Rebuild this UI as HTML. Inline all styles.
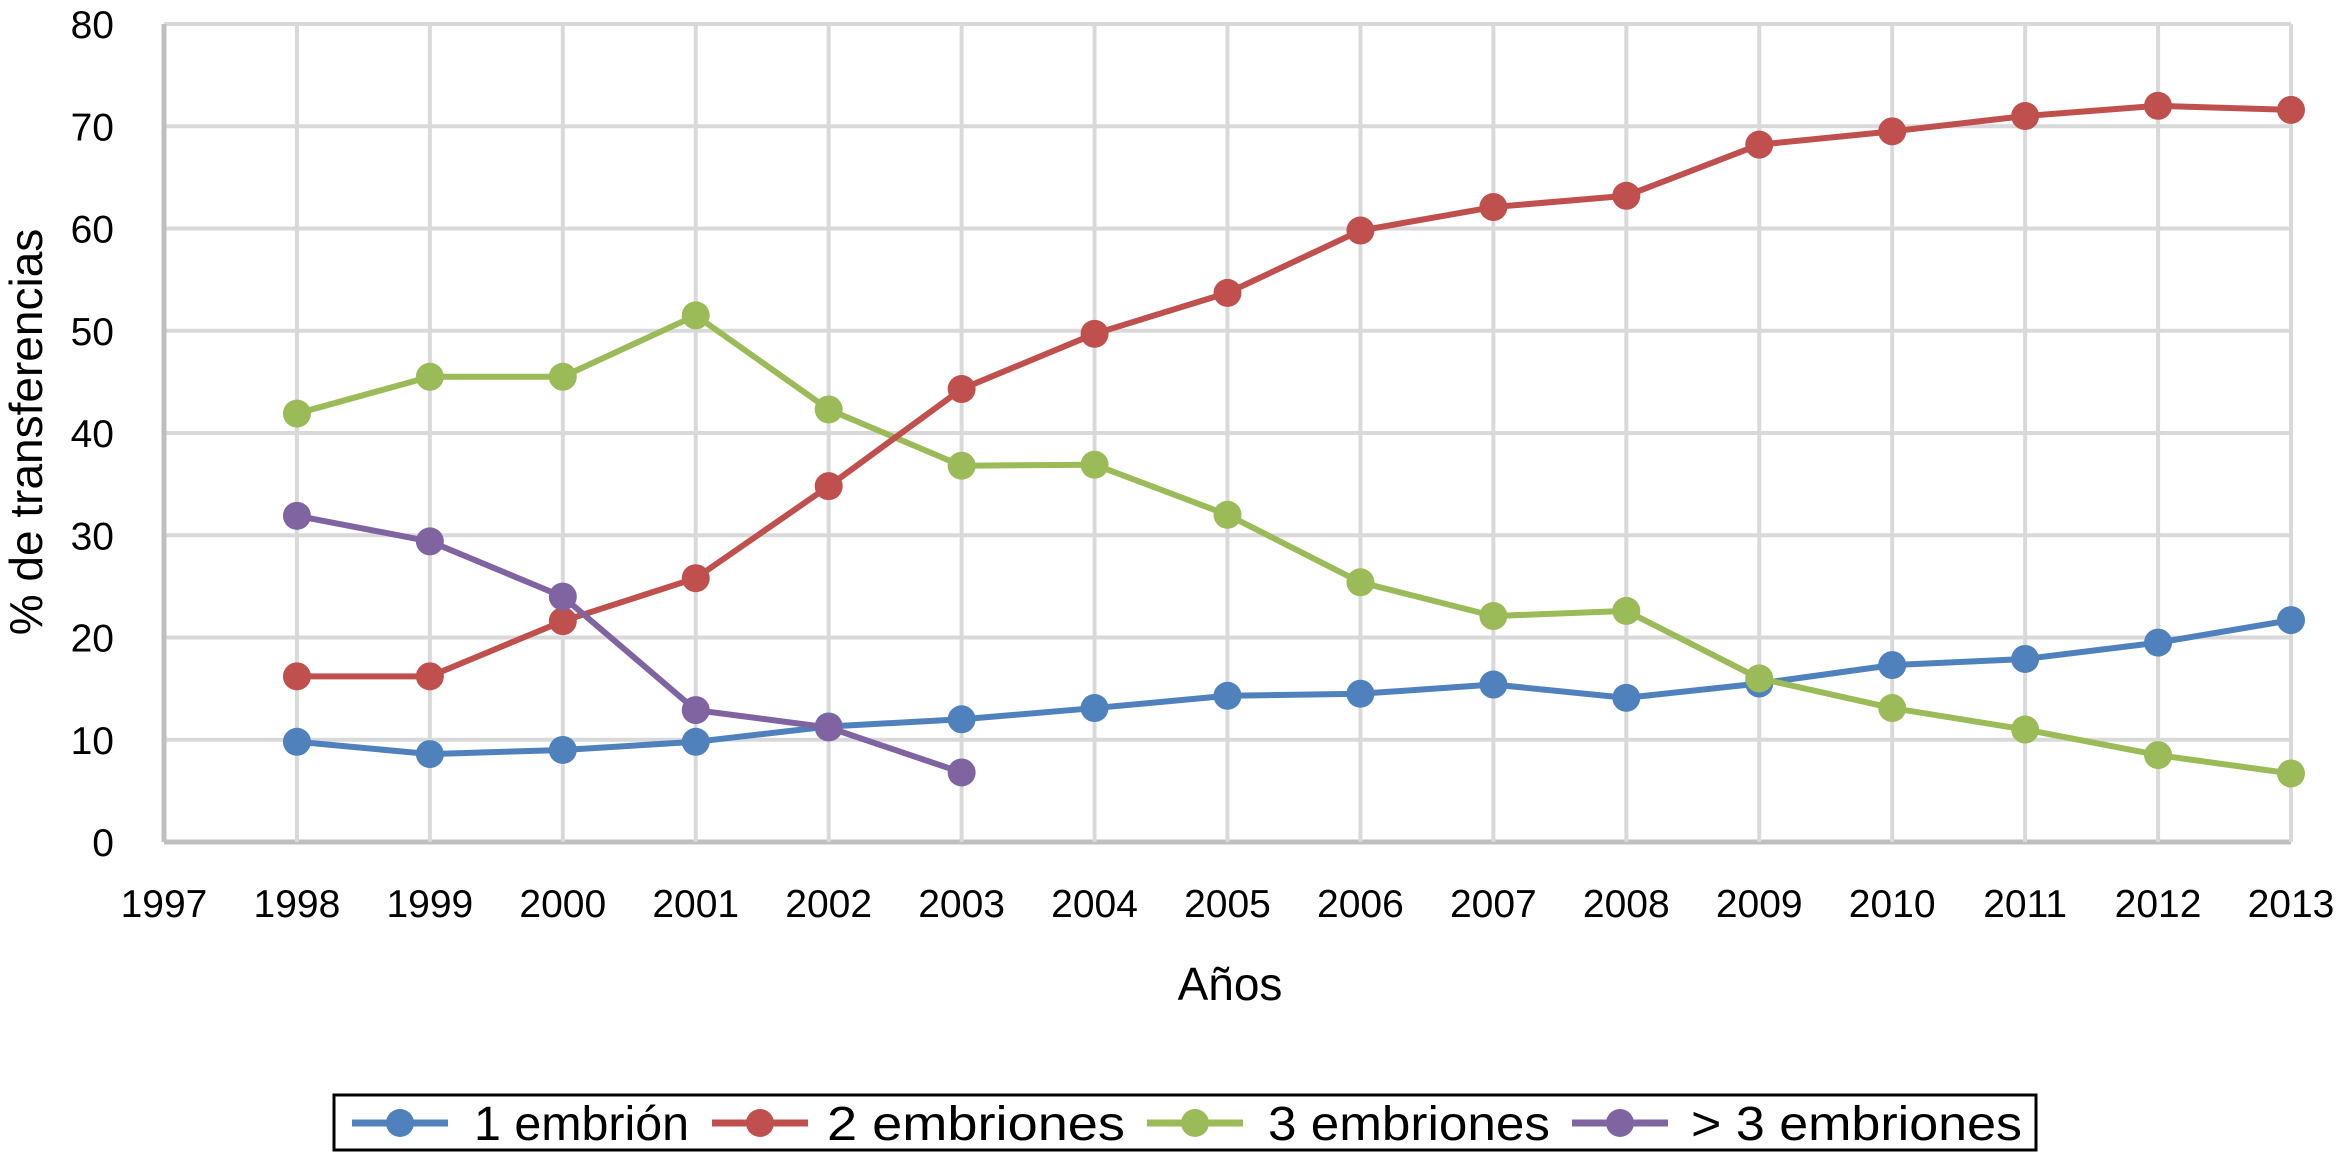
<!DOCTYPE html>
<html><head><meta charset="utf-8"><style>
html,body{margin:0;padding:0;background:#fff;}
svg{display:block;font-family:"Liberation Sans",Arial,sans-serif;}
</style></head><body>
<svg id="chart" width="2337" height="1153" viewBox="0 0 2337 1153">
<g id="grid"></g>
<g id="axes"></g>
<g id="series"></g>
<text x="1230" y="1000" font-size="46" text-anchor="middle" fill="#000">Años</text>
<text transform="translate(42,432) rotate(-90)" font-size="46" text-anchor="middle" fill="#000">% de transferencias</text>
<g id="legend">
<rect x="334" y="1095" width="1702" height="55" fill="#fff" stroke="#000" stroke-width="3"/>
</g>
</svg>
<script>
const years = [1997,1998,1999,2000,2001,2002,2003,2004,2005,2006,2007,2008,2009,2010,2011,2012,2013];
const yTicks = [0,10,20,30,40,50,60,70,80];
const seriesNames = ["1 embrión","2 embriones","3 embriones","> 3 embriones"];
const seriesColors = ["#4f81bd","#c0504d","#9bbb59","#8064a2"];
const s1Years = [1998,1999,2000,2001,2002,2003,2004,2005,2006,2007,2008,2009,2010,2011,2012,2013];
const s1 = [9.8,8.6,9.0,9.8,11.3,12.0,13.1,14.3,14.5,15.4,14.1,15.5,17.3,17.9,19.5,21.7];
const s2 = [16.2,16.2,21.6,25.8,34.8,44.3,49.7,53.7,59.8,62.1,63.2,68.2,69.5,71.0,72.0,71.6];
const s3 = [41.9,45.5,45.5,51.5,42.3,36.8,36.9,32.0,25.4,22.1,22.6,16.0,13.1,11.0,8.5,6.7];
const s4Years = [1998,1999,2000,2001,2002,2003];
const s4 = [31.9,29.4,24.0,12.9,11.2,6.8];
const legendX = [352,712,1147,1572];
const legendTextX = [474,827,1268,1691];
const legendTextW = [215,298,282,331];

const NS="http://www.w3.org/2000/svg";
const X0=164,X1=2291,Y0=842,Y1=24;
function xs(v){return X0+(v-1997)/(2013-1997)*(X1-X0);}
function ys(v){return Y0-v/80*(Y0-Y1);}
function mk(tag,attrs,parent){const e=document.createElementNS(NS,tag);for(const k in attrs)e.setAttribute(k,attrs[k]);parent.appendChild(e);return e;}
const grid=document.getElementById('grid'),axes=document.getElementById('axes'),ser=document.getElementById('series'),leg=document.getElementById('legend');
yTicks.forEach(t=>{
  const l=mk('line',{x1:X0,x2:X1,y1:ys(t),y2:ys(t),stroke:t===0?'#bfbfbf':'#d9d9d9','stroke-width':t===0?5:4},grid);
  
  
  const tx=mk('text',{x:114,y:ys(t)+14,'font-size':39,'text-anchor':'end',fill:'#000'},axes);
  tx.textContent=t;
  
  
});
years.forEach(yr=>{
  const l=mk('line',{x1:xs(yr),x2:xs(yr),y1:Y1,y2:Y0,stroke:yr===1997?'#bfbfbf':'#d9d9d9','stroke-width':yr===1997?5:4},grid);
  
  
  const tx=mk('text',{x:xs(yr),y:917,'font-size':39,'text-anchor':'middle',fill:'#000'},axes);
  tx.textContent=yr;
  
  
});
function drawSeries(xv,yv,color,name){
  const g=mk('g',{},ser);
  
  
  const pts=xv.map((x,i)=>xs(x)+','+ys(yv[i])).join(' ');
  const pl=mk('polyline',{points:pts,fill:'none',stroke:color,'stroke-width':6,'stroke-linejoin':'round'},g);
  
  
  xv.forEach((x,i)=>{
    const c=mk('circle',{cx:xs(x),cy:ys(yv[i]),r:14,fill:color},g);
    
    
  });
}
drawSeries(s1Years,s1,seriesColors[0],'1-embrion');
drawSeries(s1Years,s3,seriesColors[2],'3-embriones');
drawSeries(s1Years,s2,seriesColors[1],'2-embriones');
drawSeries(s4Years,s4,seriesColors[3],'mas-3-embriones');
seriesNames.forEach((n,i)=>{
  const x=legendX[i],y=1123;
  const l=mk('line',{x1:x,x2:x+96,y1:y,y2:y,stroke:seriesColors[i],'stroke-width':7},leg);
  
  
  const c=mk('circle',{cx:x+48,cy:y,r:14,fill:seriesColors[i]},leg);
  
  
  const t=mk('text',{x:legendTextX[i],y:y+17,'font-size':48,fill:'#000',textLength:legendTextW[i],lengthAdjust:'spacingAndGlyphs'},leg);
  t.textContent=n;
  
  
});
</script>
</body></html>
